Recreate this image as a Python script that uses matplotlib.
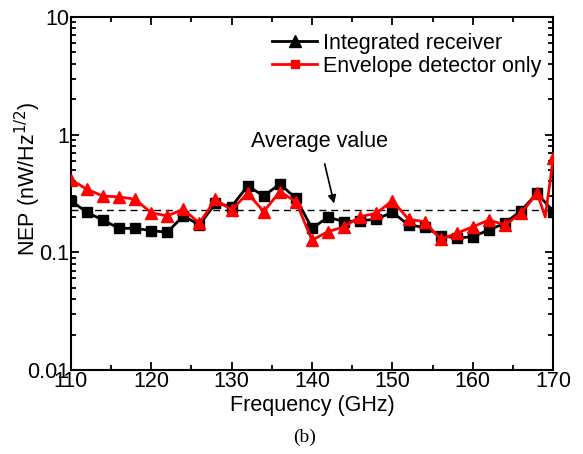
import matplotlib
matplotlib.use("Agg")
import matplotlib.pyplot as plt
from matplotlib.lines import Line2D
from matplotlib.ticker import LogLocator, NullFormatter, FixedLocator, MultipleLocator

plt.rcParams['font.family'] = ['Liberation Sans', 'DejaVu Sans']

freq = [110, 112, 114, 116, 118, 120, 122, 124, 126, 128, 130, 132, 134, 136, 138, 140,
        142, 144, 146, 148, 150, 152, 154, 156, 158, 160, 162, 164, 166, 168, 170]
integrated = [0.275, 0.219, 0.188, 0.160, 0.160, 0.153, 0.148, 0.204, 0.171, 0.261, 0.245,
              0.367, 0.301, 0.381, 0.288, 0.160, 0.199, 0.182, 0.186, 0.191, 0.219, 0.171,
              0.163, 0.139, 0.132, 0.136, 0.155, 0.177, 0.226, 0.318, 0.222]
freq_env = [110, 112, 114, 116, 118, 120, 122, 124, 126, 128, 130, 132, 134, 136, 138, 140,
            142, 144, 146, 148, 150, 152, 154, 156, 158, 160, 162, 164, 166, 168, 169, 170]
envelope = [0.415, 0.344, 0.301, 0.296, 0.283, 0.217, 0.204, 0.232, 0.177, 0.283, 0.229,
            0.318, 0.222, 0.328, 0.270, 0.127, 0.150, 0.165, 0.201, 0.215, 0.275, 0.191,
            0.182, 0.129, 0.145, 0.165, 0.188, 0.171, 0.215, 0.318, 0.20, 0.63]
env_markers = [f != 169 for f in freq_env]
average_value = 0.229
labels = ["Integrated receiver", "Envelope detector only"]

FS = 15.5

fig = plt.figure(figsize=(5.83, 4.54), dpi=100)
ax = fig.add_axes([0.1213, 0.185, 0.8277, 0.7776])

ax.plot(freq, integrated, color='black', lw=2, marker='s', ms=7, zorder=3)
ax.plot(freq_env, envelope, color='red', lw=2, marker='^', ms=9,
        markevery=env_markers, zorder=4)
ax.axhline(average_value, color='black', lw=1, ls=(0, (5, 3.5)), zorder=2)

ax.set_xlim(110, 170)
ax.set_yscale('log')
ax.set_ylim(0.01, 10)
ax.xaxis.set_major_locator(MultipleLocator(10))
ax.xaxis.set_minor_locator(MultipleLocator(5))
ax.yaxis.set_major_locator(FixedLocator([0.01, 0.1, 1, 10]))
ax.yaxis.set_minor_locator(LogLocator(base=10, subs=range(2, 10)))
ax.yaxis.set_minor_formatter(NullFormatter())
ax.set_yticklabels(['0.01', '0.1', '1', '10'])

ax.tick_params(which='both', direction='in', top=True, right=True, width=1.3,
               labelsize=FS)
ax.tick_params(axis='x', pad=1)
ax.tick_params(axis='y', pad=1)
ax.tick_params(which='major', length=6)
ax.tick_params(which='minor', length=3.5)
for s in ax.spines.values():
    s.set_linewidth(1.5)

ax.set_xlabel('Frequency (GHz)', fontsize=FS, labelpad=2)
ax.set_ylabel('NEP (nW/Hz$^{1/2}$)', fontsize=FS)
ax.yaxis.set_label_coords(-0.058, 0.54)

ax.annotate('Average value', xy=(142.75, 0.26), xytext=(140.9, 0.88),
            ha='center', va='center', fontsize=FS,
            arrowprops=dict(arrowstyle='-|>', color='black', lw=1.2,
                            mutation_scale=12, shrinkA=7, shrinkB=0))

handles = [Line2D([], [], color='black', lw=2, marker='^', ms=8),
           Line2D([], [], color='red', lw=2, marker='s', ms=6)]
ax.legend(handles, labels, loc='upper right', bbox_to_anchor=(0.975, 0.955), frameon=False,
          fontsize=FS, handlelength=2.1, handletextpad=0.25, labelspacing=0.1,
          borderpad=0, borderaxespad=0)

fig.text(0.523, 0.037, '(b)', ha='center', va='center', fontsize=14,
         family=['Liberation Serif', 'DejaVu Serif'])

fig.savefig('out.png', dpi=100)
